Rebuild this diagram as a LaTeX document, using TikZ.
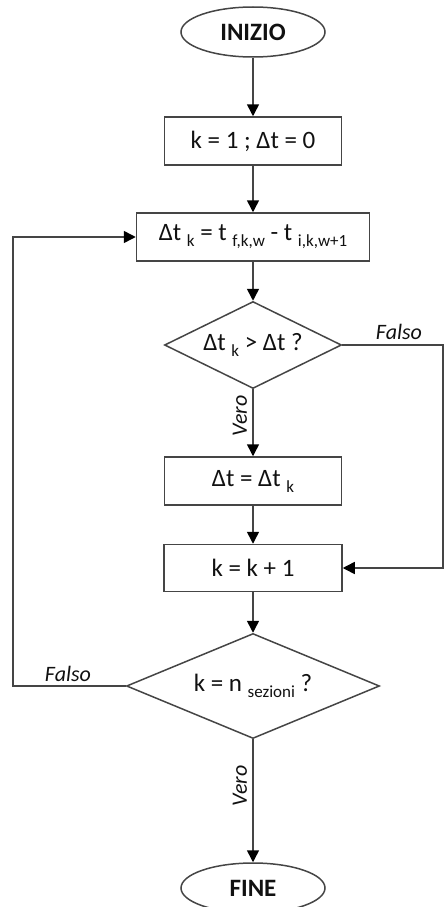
\documentclass[tikz,border=0pt]{standalone}
\usepackage{fontspec}
\setmainfont{Carlito}
\usetikzlibrary{shapes.geometric,arrows.meta}
\newcommand{\idx}[1]{\raisebox{-0.5ex}{\fontsize{17}{17}\selectfont #1}}
\definecolor{linegray}{HTML}{454545}
\definecolor{inkblack}{HTML}{111111}
\begin{document}
\begin{tikzpicture}[x=1pt,y=-1pt,
  every node/.style={text=inkblack},
  conn/.style={draw=linegray,line width=1.5pt},
  flow/.style={conn,-{Triangle[length=12pt,width=12pt,color=black]}},
  terminal/.style={ellipse,draw=linegray,line width=1.5pt,inner sep=0pt,
    minimum width=144pt,minimum height=50pt,font=\fontsize{25}{25}\selectfont\bfseries},
  procbox/.style={rectangle,draw=linegray,line width=1.5pt,inner sep=0pt,
    minimum height=48pt,font=\fontsize{25}{25}\selectfont},
  testbox/.style={diamond,draw=linegray,line width=1.5pt,inner sep=0pt,
    font=\fontsize{25}{25}\selectfont},
  branch/.style={font=\fontsize{22}{22}\selectfont\itshape,inner sep=0pt}]
\useasboundingbox (0,0) rectangle (445,907);
\clip (0,0) rectangle (445,907);

% blocks
\node[terminal] (start) at (253,32) {INIZIO};
\node[procbox,minimum width=177pt] (init) at (253,141) {k = 1 ; Δt = 0};
\node[procbox,minimum width=233pt] (dk) at (253,237)
  {Δt \idx{k} = t \idx{f,k,w} - t \idx{i,k,w+1}};
\node[testbox,minimum width=177pt,minimum height=87pt] (d1) at (253,345)
  {\makebox[0pt]{Δt \idx{k} > Δt ?}};
\node[procbox,minimum width=177pt] (upd) at (253,481) {Δt = Δt \idx{k}};
\node[procbox,minimum width=178pt,minimum height=47pt] (inc) at (253,568) {k = k + 1};
\node[testbox,minimum width=253pt,minimum height=105pt] (d2) at (253,686)
  {\makebox[0pt]{k = n \idx{sezioni} ?}};
\node[terminal] (fine) at (253,888) {FINE};

% return points of the loops
\coordinate (rt) at (443,345);
\coordinate (lt) at (13,686);

% connectors
\draw[flow] (start) -- (init);
\draw[flow] (init) -- (dk);
\draw[flow] (dk) -- (d1);
\draw[flow] (d1) -- (upd);
\draw[flow] (upd) -- (inc);
\draw[flow] (inc) -- (d2);
\draw[flow] (d2) -- (fine);
\draw[flow] (d1.east) -- (rt) |- (inc.east);
\draw[flow] (d2.west) -- (lt) |- (dk.west);

% branch labels
\node[branch] (f1) at (399,332) {Falso};
\node[branch] (f2) at (68,674) {Falso};
\node[branch,rotate=90] (v1) at (240,416) {Vero};
\node[branch,rotate=90] (v2) at (240,786) {Vero};
\end{tikzpicture}
\end{document}
